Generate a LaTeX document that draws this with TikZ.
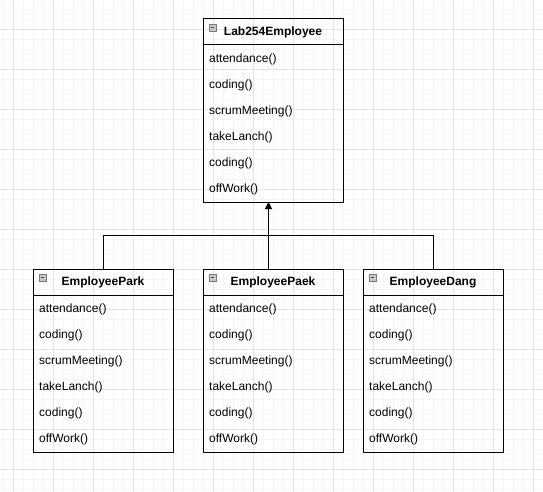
\documentclass[tikz,border=0pt]{standalone}
\usepackage{fontspec}
\setmainfont{Liberation Sans}
\usetikzlibrary{arrows.meta,calc}
\definecolor{gmajor}{HTML}{E4E4E4}
\definecolor{gminor}{HTML}{F6F6F6}
\definecolor{icofill}{HTML}{C8C8C8}
\definecolor{icoline}{HTML}{7A7A7A}
\tikzset{
  classhead/.style={draw, line width=1pt, outer sep=0pt, minimum width=140pt, minimum height=26pt, inner sep=0pt, font=\fontsize{12}{14}\selectfont\bfseries},
  classbody/.style={draw, line width=1pt, outer sep=0pt, minimum width=140pt, minimum height=157pt, inner sep=0pt},
  method/.style={anchor=west, inner sep=0pt, font=\fontsize{12}{14}\selectfont},
  icon/.style={fill=icofill, draw=icoline, line width=0.6pt},
  conn/.style={line width=1pt},
}
\newcommand\umlclass[4]{%
  \node[classhead, anchor=north west] (#1head) at (#2,#3) {#4};
  \node[classbody, anchor=north] (#1body) at (#1head.south) {};
  \draw[icon] ($(#1head.north west)+(6,5)$) rectangle ++(7,7);
  \draw[black!70, line width=0.8pt] ($(#1head.north west)+(8,8.5)$) -- ++(3,0);
  \foreach \m [count=\i from 0] in {attendance(),coding(),scrumMeeting(),takeLanch(),coding(),offWork()}{
    \node[method] (#1m\i) at ($(#1body.north west)+(6,14+26*\i)$) {\m};
  }
}
\begin{document}
\begin{tikzpicture}[x=1pt,y=-1pt]
\fill[white] (0,0) rectangle (543,492);
\useasboundingbox (0,0) rectangle (543,492);
\foreach \k in {0,...,54} \draw[gminor, line width=0.8pt] ({3.3+10*\k},0) -- ++(0,492);
\foreach \k in {0,...,48} \draw[gminor, line width=0.8pt] (0,{9.3+10*\k}) -- ++(543,0);
\foreach \k in {0,...,13} \draw[gmajor, line width=0.8pt] ({13.3+40*\k},0) -- ++(0,492);
\foreach \k in {0,...,11} \draw[gmajor, line width=0.8pt] (0,{29.3+40*\k}) -- ++(543,0);

\umlclass{top}{203}{19}{Lab254Employee}
\umlclass{park}{33}{269}{EmployeePark}
\umlclass{paek}{203}{269}{EmployeePaek}
\umlclass{dang}{363}{269}{EmployeeDang}

\coordinate (j) at (268.5,235.7);
\draw[conn] (parkhead.north) |- (j);
\draw[conn] (danghead.north) |- (j);
\draw[conn, -{Triangle[length=7pt,width=7pt]}] (paekhead.north -| j) -- (j) -- (topbody.south -| j);
\end{tikzpicture}
\end{document}
